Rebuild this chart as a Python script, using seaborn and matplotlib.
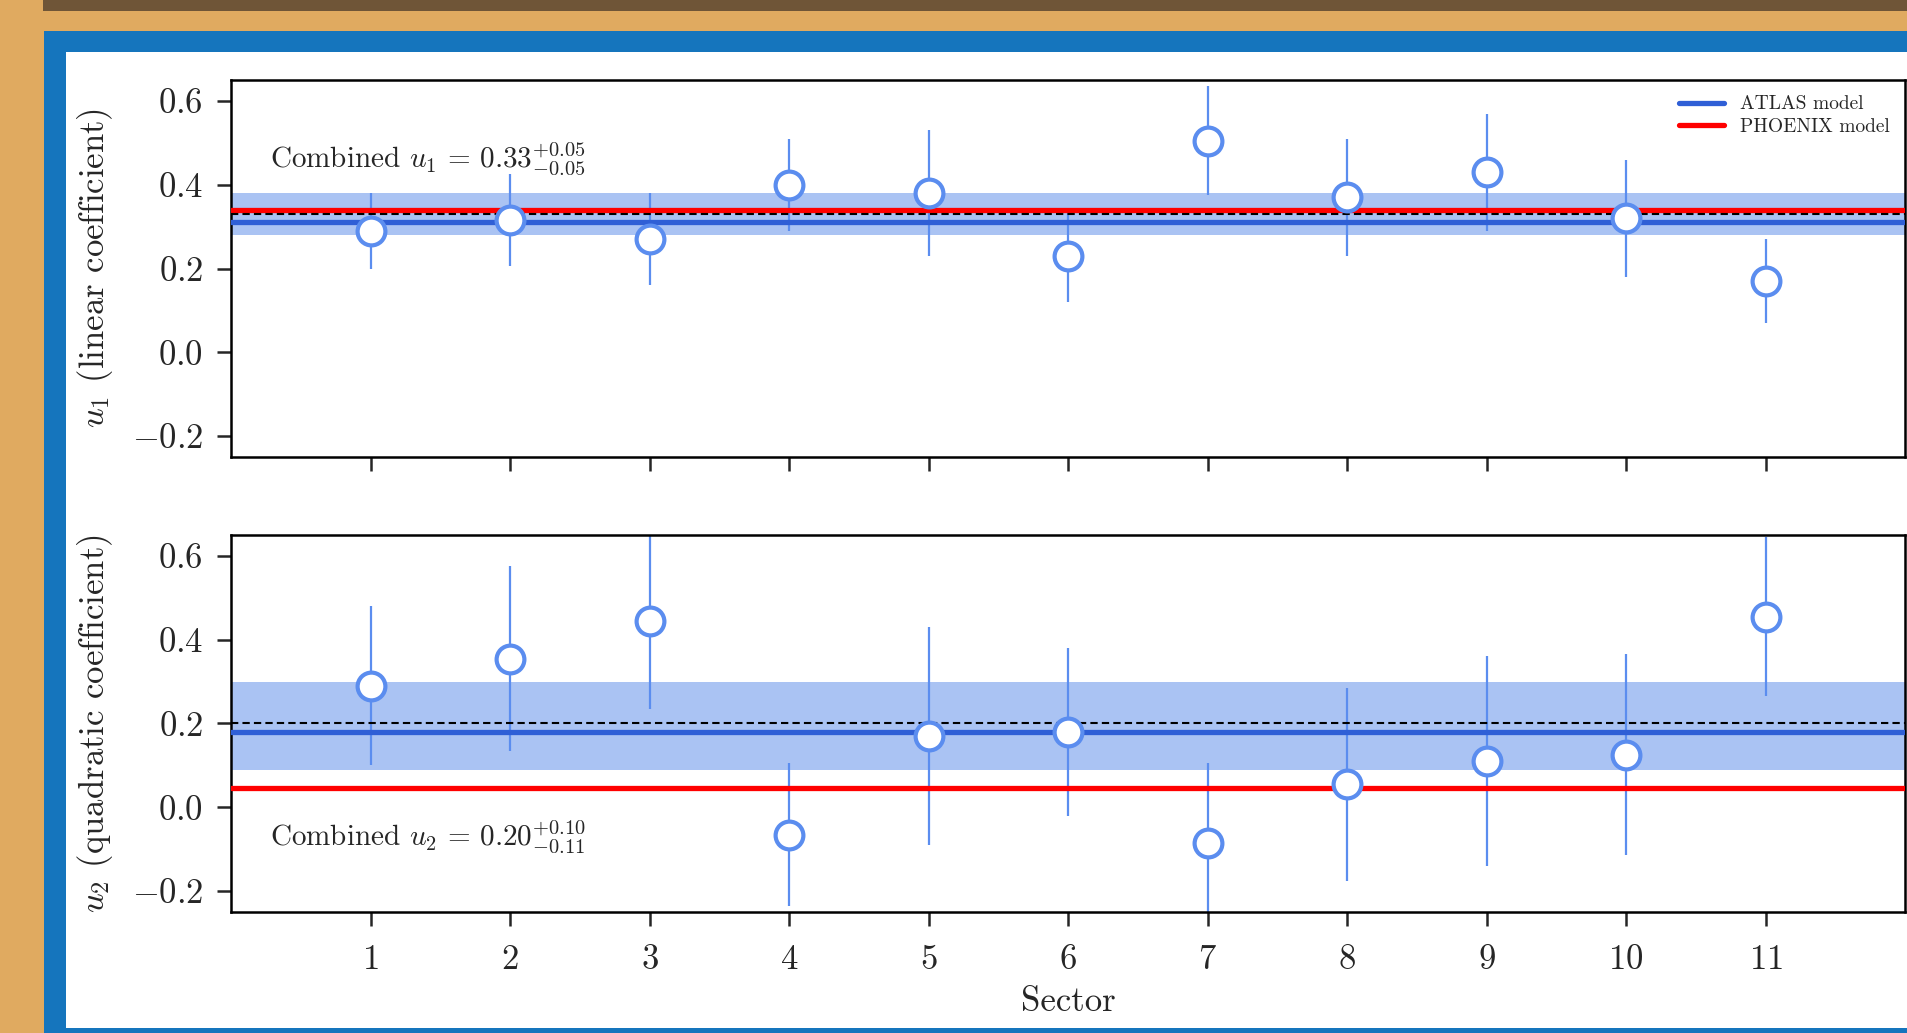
import numpy as np
import pandas as pd
import matplotlib.pyplot as plt
import matplotlib.patches as mpatches
import seaborn as sns


sectors = [1, 2, 3, 4, 5, 6, 7, 8, 9, 10, 11]

u1 = [0.29, 0.315, 0.27, 0.40, 0.38, 0.23, 0.505, 0.37, 0.43, 0.32, 0.17]
u1_err = [0.09, 0.11, 0.11, 0.11, 0.15, 0.11, 0.13, 0.14, 0.14, 0.14, 0.10]

u2 = [0.29, 0.355, 0.445, -0.065, 0.17, 0.18, -0.085, 0.055, 0.11, 0.125, 0.455]
u2_err = [0.19, 0.22, 0.21, 0.17, 0.26, 0.20, 0.19, 0.23, 0.25, 0.24, 0.19]

combined = [0.33, 0.20]
combined_up = [0.05, 0.10]
combined_lo = [0.05, 0.11]
atlas = [0.31, 0.18]
phoenix = [0.34, 0.045]

ylabels = [r"$u_1$ (linear coefficient)", r"$u_2$ (quadratic coefficient)"]
combined_text = [r"Combined $u_1\, =\, 0.33^{+0.05}_{-0.05}$",
                 r"Combined $u_2\, =\, 0.20^{+0.10}_{-0.11}$"]
yticks = [-0.2, 0.0, 0.2, 0.4, 0.6]

W, H = 1907, 1033
point_color = "#5b8def"
band_color = "#aac3f3"
atlas_color = "#2f5fd6"


def px_rect(fig, x0, y0, x1, y1, color):
    # rectangle given in pixels measured from the top-left corner
    r = mpatches.Rectangle((x0 / W, 1 - y1 / H), (x1 - x0) / W, (y1 - y0) / H,
                           transform=fig.transFigure, color=color, lw=0, zorder=-10)
    fig.add_artist(r)


sns.set_style("ticks")
plt.rcParams.update({
    "font.family": "cmr10",
    "mathtext.fontset": "cm",
    "axes.formatter.use_mathtext": True,
    "axes.unicode_minus": True,
})

fig = plt.figure(figsize=(W / 100, H / 100), dpi=100)
fig.patch.set_facecolor("#e0aa60")

# slide frame around the plot
px_rect(fig, 43, 0, W, 11, "#6f5537")
px_rect(fig, 44, 31, W, H, "#1575bd")
px_rect(fig, 66, 52, W, 1028, "white")

ax1 = fig.add_axes([231 / W, 1 - 457 / H, 1674 / W, 377 / H])
ax2 = fig.add_axes([231 / W, 1 - 912 / H, 1674 / W, 377 / H])

series = [(u1, u1_err), (u2, u2_err)]
for i, ax in enumerate([ax1, ax2]):
    vals, errs = series[i]
    df = pd.DataFrame({"Sector": sectors, "u": vals, "err": errs})

    ax.axhspan(combined[i] - combined_lo[i], combined[i] + combined_up[i],
               color=band_color, lw=0, zorder=1)
    ax.errorbar(df["Sector"], df["u"], yerr=df["err"], fmt="none",
                ecolor=point_color, elinewidth=1.6, zorder=2)
    ax.axhline(atlas[i], color=atlas_color, lw=3.8, zorder=3, label="ATLAS model")
    ax.axhline(phoenix[i], color="red", lw=3.8, zorder=3, label="PHOENIX model")
    ax.axhline(combined[i], color="black", lw=1.5, ls=(0, (3.5, 2)), zorder=4)
    sns.scatterplot(data=df, x="Sector", y="u", ax=ax, s=400, color="white",
                    edgecolor=point_color, linewidth=3, zorder=5, legend=False)

    ax.set_xlim(0, 12)
    ax.set_ylim(-0.25, 0.65)
    ax.set_xticks(sectors)
    ax.set_yticks(yticks)
    ax.tick_params(direction="out", length=10, width=1.8, labelsize=25, pad=10,
                   top=False, right=False)
    for s in ax.spines.values():
        s.set_visible(True)
        s.set_linewidth(1.8)
        s.set_color("black")
    ax.set_ylabel(ylabels[i], fontsize=25)
    ax.yaxis.set_label_coords(-0.069, 0.5)
    ax.set_facecolor("none")
    ax.grid(False)

    ytext = 0.79 if i == 0 else 0.2
    ax.text(0.023, ytext, combined_text[i], transform=ax.transAxes,
            fontsize=21, va="center", ha="left")

ax1.set_xlabel("")
ax1.tick_params(labelbottom=False)
ax2.set_xlabel("Sector", fontsize=25, labelpad=8)
ax2.tick_params(axis="x", pad=13)

ax1.legend(loc="upper right", frameon=False, fontsize=14, handlelength=2.3,
           borderaxespad=0.4, labelspacing=0.25)

fig.savefig("out.png", dpi=100)
